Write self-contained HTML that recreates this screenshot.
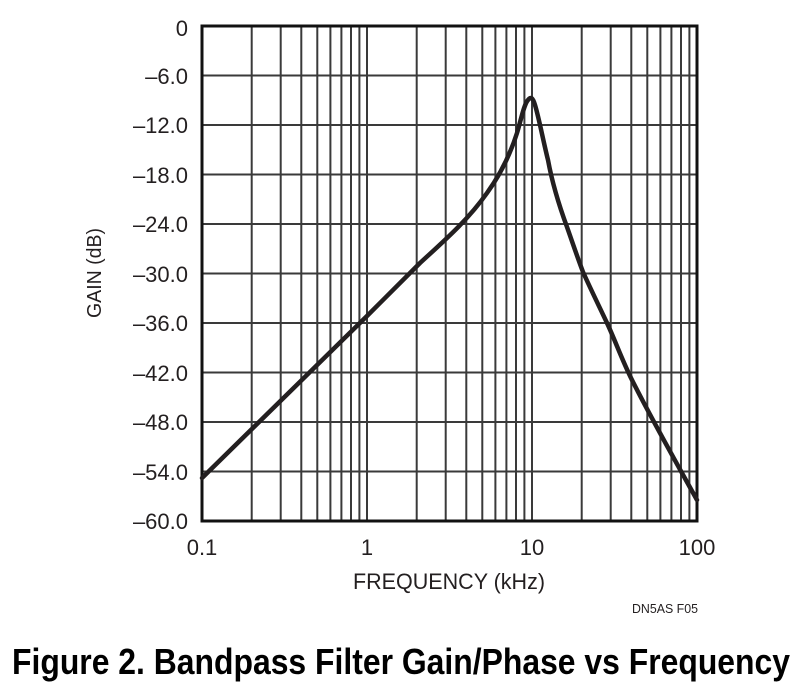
<!DOCTYPE html>
<html><head><meta charset="utf-8"><style>html,body{margin:0;padding:0;background:#fff}svg{display:block}</style></head>
<body>
<svg width="800" height="690" viewBox="0 0 800 690" xmlns="http://www.w3.org/2000/svg" font-family="Liberation Sans, sans-serif" fill="#231f20">
<g stroke="#3a3a3a" stroke-width="2">
<line x1="202" x2="697" y1="75.5" y2="75.5"/><line x1="202" x2="697" y1="125" y2="125"/><line x1="202" x2="697" y1="174.5" y2="174.5"/><line x1="202" x2="697" y1="224" y2="224"/><line x1="202" x2="697" y1="273.5" y2="273.5"/><line x1="202" x2="697" y1="323" y2="323"/><line x1="202" x2="697" y1="372.5" y2="372.5"/><line x1="202" x2="697" y1="422" y2="422"/><line x1="202" x2="697" y1="471.5" y2="471.5"/>
<g id="dec">
<line x1="251.7" x2="251.7" y1="26" y2="521"/><line x1="280.7" x2="280.7" y1="26" y2="521"/><line x1="301.3" x2="301.3" y1="26" y2="521"/><line x1="317.3" x2="317.3" y1="26" y2="521"/><line x1="330.4" x2="330.4" y1="26" y2="521"/><line x1="341.4" x2="341.4" y1="26" y2="521"/><line x1="351" x2="351" y1="26" y2="521"/><line x1="359.4" x2="359.4" y1="26" y2="521"/><line x1="367" x2="367" y1="26" y2="521"/>
</g>
<use href="#dec" transform="translate(165,0)"/>
<use href="#dec" transform="translate(330,0)"/>
</g>
<rect x="202" y="26" width="495" height="495" fill="none" stroke="#111" stroke-width="3"/>
<path fill="none" stroke="#231f20" stroke-width="4.5" stroke-linejoin="round" stroke-linecap="round" d="M202,478 L367,316 L420,263 C445,240 468,220 487,193 C500,175 510,155 517,133 C521,120 524,104 528,100 C531,96 533,98 535,105 C539,118 543,140 548,160 C553,187 560,208 567,227 C573,244 578,259 583,272 C592,292 600,308 607,323 C615,340 622,360 632,380 C650,416 672,455 697,500"/>
<g font-size="22" text-anchor="end">
<text x="188" y="36">0</text><text x="188" y="84">–6.0</text><text x="188" y="133">–12.0</text><text x="188" y="183">–18.0</text><text x="188" y="232">–24.0</text><text x="188" y="282">–30.0</text><text x="188" y="331">–36.0</text><text x="188" y="381">–42.0</text><text x="188" y="430">–48.0</text><text x="188" y="480">–54.0</text><text x="188" y="529">–60.0</text>
</g>
<g font-size="22" text-anchor="middle">
<text x="202" y="555">0.1</text><text x="367" y="555">1</text><text x="532" y="555">10</text><text x="697" y="555">100</text>
<text x="449" y="589" textLength="192" lengthAdjust="spacingAndGlyphs">FREQUENCY (kHz)</text>
<text x="665" y="613" font-size="13" textLength="66" lengthAdjust="spacingAndGlyphs">DN5AS F05</text>
</g>
<text transform="translate(101,273) rotate(-90)" font-size="20" text-anchor="middle" textLength="90" lengthAdjust="spacingAndGlyphs">GAIN (dB)</text>
<text x="12" y="674" font-size="36" font-weight="bold" textLength="778" lengthAdjust="spacingAndGlyphs" fill="#000">Figure 2. Bandpass Filter Gain/Phase vs Frequency</text>
</svg>
</body></html>
